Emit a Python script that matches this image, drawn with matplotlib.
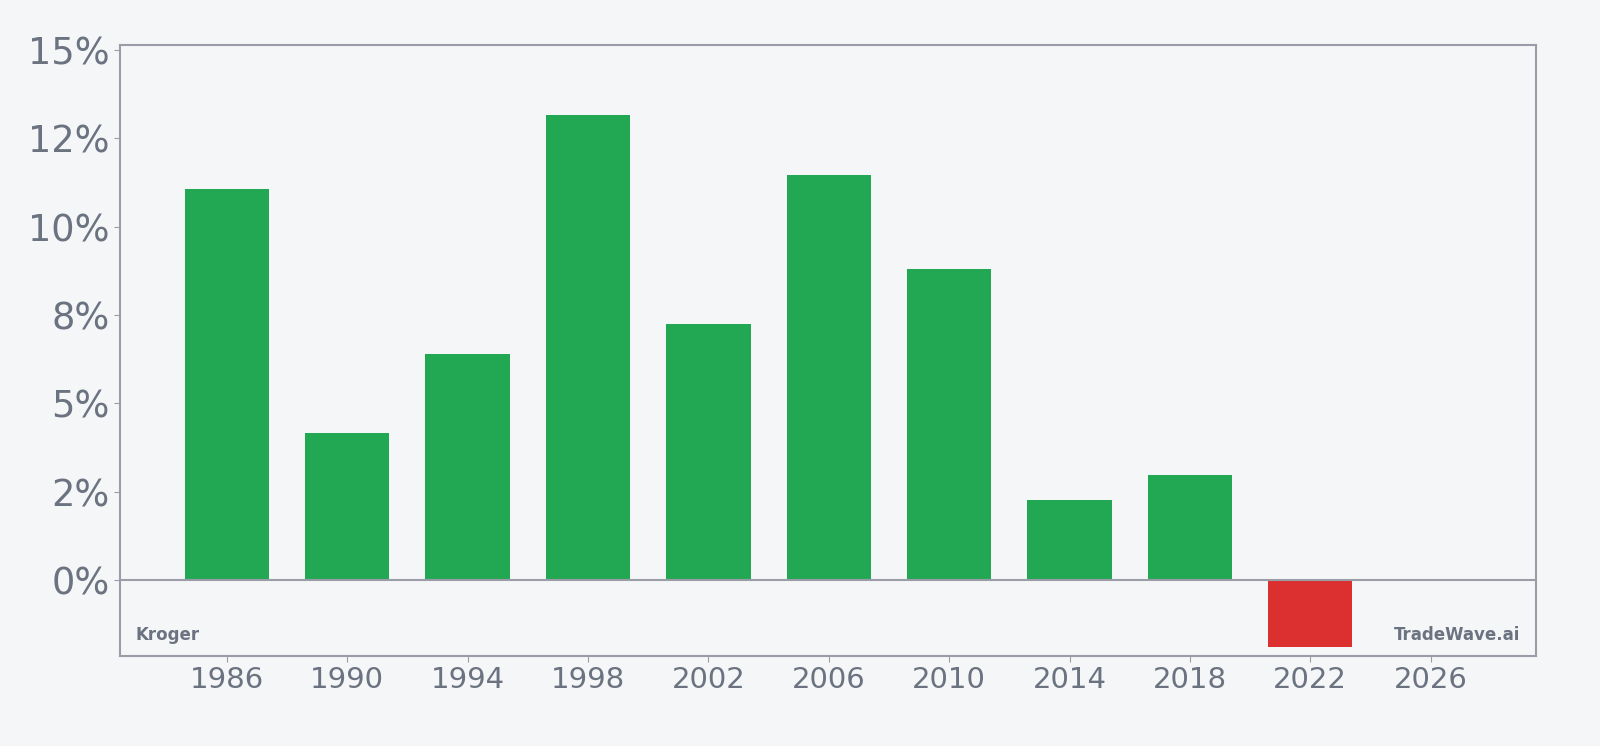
import numpy as np
import matplotlib
matplotlib.use("Agg")
import matplotlib.pyplot as plt
from matplotlib.ticker import FuncFormatter

# Kroger yearly values (%)
years = [1986, 1990, 1994, 1998, 2002, 2006, 2010, 2014, 2018, 2022]
values = [11.07, 4.16, 6.40, 13.16, 7.25, 11.45, 8.79, 2.26, 2.96, -1.89]
yticks = [0, 2.5, 5, 7.5, 10, 12.5, 15]
xticks = [1986, 1990, 1994, 1998, 2002, 2006, 2010, 2014, 2018, 2022, 2026]

bg = '#f4f6f8'
text_color = '#6b7280'
spine_color = '#9a9ca8'
colors = ['#22a752' if v >= 0 else '#dc3030' for v in values]

fig = plt.figure(figsize=(16, 7.46), dpi=100, facecolor=bg)
ax = fig.add_axes([0.075, 0.1206, 0.885, 0.8191])
ax.set_facecolor(bg)

ax.bar(years, values, width=2.8, color=colors, zorder=2)
ax.axhline(0, color=spine_color, linewidth=1.5, zorder=3)

ax.set_xlim(1982.45, 2029.5)
ax.set_ylim(-2.15, 15.14)
ax.set_yticks(yticks)
ax.set_xticks(xticks)
ax.yaxis.set_major_formatter(FuncFormatter(lambda v, p: '%.0f%%' % v))

for s in ax.spines.values():
    s.set_color(spine_color)
    s.set_linewidth(1.5)

ax.tick_params(axis='y', labelsize=26.5, colors=spine_color, labelcolor=text_color, length=4, pad=3.5)
ax.tick_params(axis='x', labelsize=21, colors=spine_color, labelcolor=text_color, length=4, pad=3.5)

ax.text(0.0106, 0.02, 'Kroger', transform=ax.transAxes, ha='left', va='bottom',
        fontsize=12, fontweight='bold', color=text_color)
ax.text(0.989, 0.02, 'TradeWave.ai', transform=ax.transAxes, ha='right', va='bottom',
        fontsize=12, fontweight='bold', color=text_color)

fig.savefig('out.png', dpi=100, facecolor=bg)
